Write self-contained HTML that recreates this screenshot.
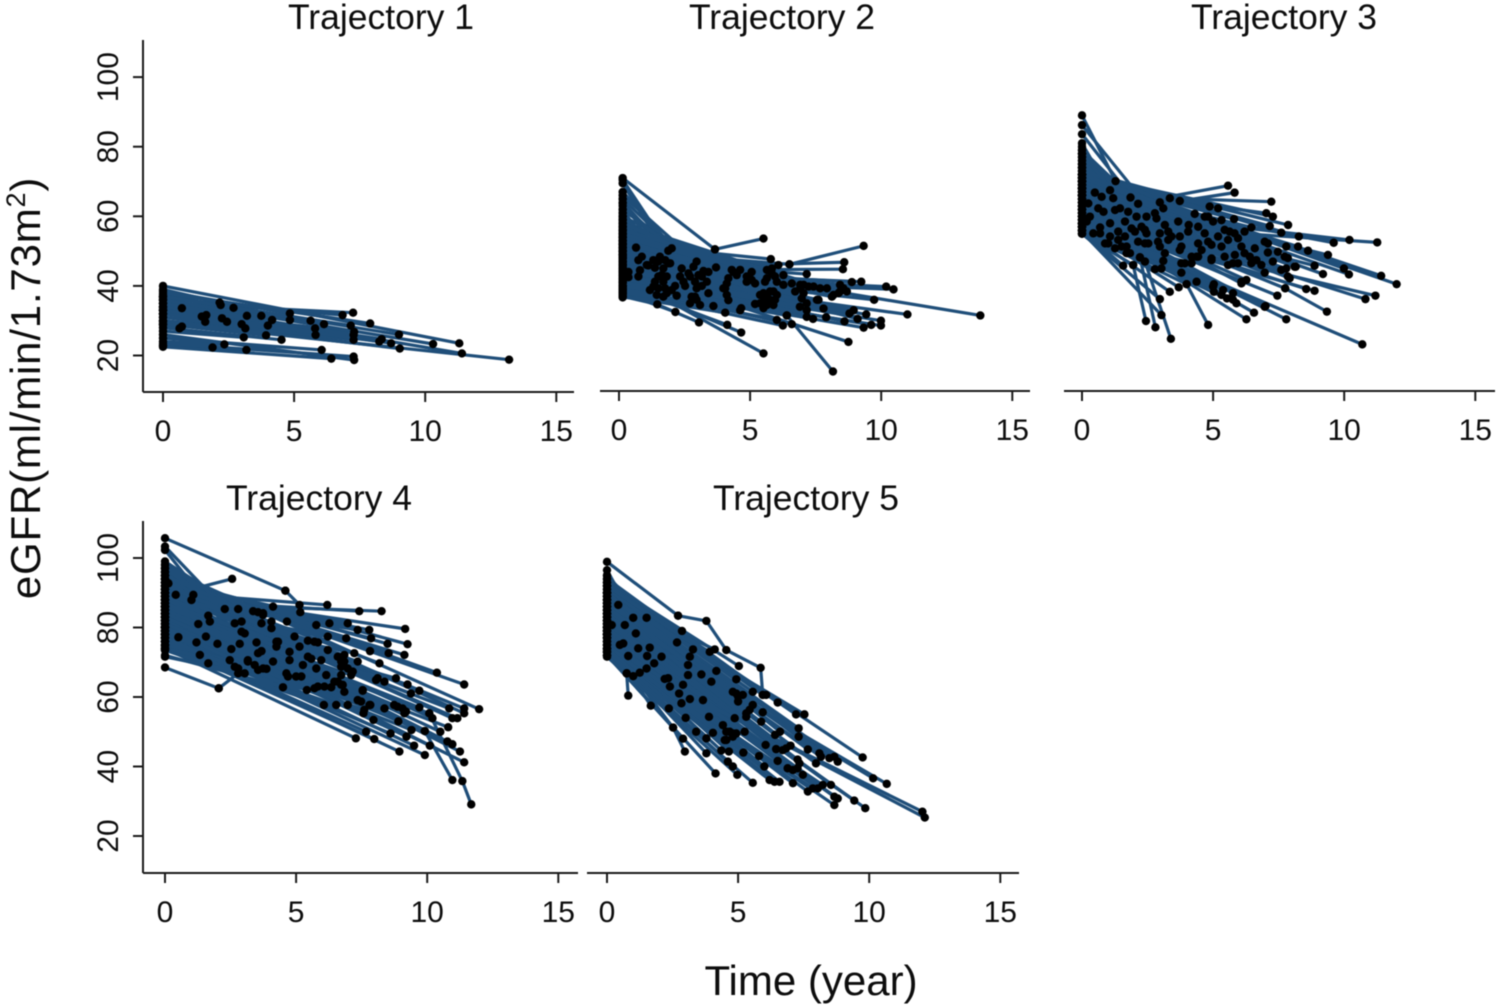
<!DOCTYPE html>
<html lang="en">
<head>
<meta charset="utf-8">
<title>eGFR trajectories</title>
<style>
html,body{margin:0;padding:0;background:#fff;width:1500px;height:1006px;overflow:hidden}
svg{display:block;filter:blur(.55px)}
text{font-family:"Liberation Sans",Arial,sans-serif;fill:#0d0d0d}
.title{font-size:35.5px;text-anchor:middle}
.tick-label{font-size:30px;text-anchor:middle}
.axis-title{font-size:42px;text-anchor:middle}
</style>
</head>
<body>
<svg id="chart" xmlns="http://www.w3.org/2000/svg" width="1500" height="1006" viewBox="0 0 1500 1006">
  <rect width="1500" height="1006" fill="#fff"/>
  <text class="title" x="381" y="29">Trajectory 1</text>
  <text class="title" x="782" y="29">Trajectory 2</text>
  <text class="title" x="1284" y="29">Trajectory 3</text>
  <text class="title" x="319" y="510">Trajectory 4</text>
  <text class="title" x="806" y="510">Trajectory 5</text>
  <text class="axis-title" transform="translate(40,388) rotate(-90)" letter-spacing="0.8">eGFR(ml/min/1.73m<tspan font-size="27" dy="-15">2</tspan><tspan dy="15">)</tspan></text>
  <text class="axis-title" x="811" y="995">Time (year)</text>
</svg>
<script>
const xTickLabels = [0, 5, 10, 15];
const yTickLabels = [20, 40, 60, 80, 100];

const t1Baseline = [34,29,28.8,33,33.5,31,39,37,37.5,33,
32,35,32,30,27,36,35,33,29,28,
38.5,36,37,34,31,36,36.5,35,37,33,
30,32,38,37,32,34,33,30,36,40,
35,29.5,23,24,22.8,25,22.5,23.5,26];
const t1Time = [.72,.72,.63,1.48,1.65,1.61,2.16,2.2,2.69,2.25,
2.44,3.2,3,3.14,3.08,3.75,4.16,4,3.93,4.52,
4.84,4.84,5.63,5.8,5.82,6.14,6.85,7.25,7.16,7.29,
7.27,7.27,7.9,9,8.25,8.34,8.7,9.03,10.3,11.3,
11.4,13.2,1.89,2.34,3.18,6.05,6.42,7.27,7.29];
const t1Value = [33.6,28.3,27.8,31.2,31.6,29.7,35.2,34.5,33.7,30.7,
29.7,31.4,29,27.8,25.2,31.4,30.2,28.6,25.8,24.5,
32.1,30.2,30,27.8,25.9,29,31.6,32.3,28.6,26.8,
24.5,25.9,29.2,26,24,24.7,23.5,22,23.3,23.5,
20.6,18.8,22.3,23.2,21.6,21.6,19.1,19.7,18.7];
const t1ExtraTime = [];
const t1ExtraValue = [];

const t2Baseline = [71,52,50,49,45,44.5,47,45,44,43,
42,44,43,48.5,42,44,40,41,42,40,
45,40,43,41,40,39,38,37,39,38.5,
39.5,40,38,37,38,37.5,36.7,52,63,64,
50,49,60,62,61,59,56,58,48,46,
47,44,57,55,53,42,44,54,40,39,
65,51,70.5,69.5,55,66,65,63.7,67,54,
56,57,59,49,52,46,43,41,38,39,
60,54,53,50,47,52,48,51,58,50,
49,46,45,42,44,41,40,43,55,54,
52,56,51,50,53,48,57,47,46,45,
49,44,47,43,42,
54,59,61,57,52,55,47,45,50,60,
53,51,62,44,58,56,49,48,42,39,
53,50,46,48,47,56,51,52,41,42,
38,44,54,55,48,46,50,52,49,46,
48,43,42,41,45];
const t2Time = [3.66,5.79,6.5,6.08,8.59,8.54,7.16,8.88,9.24,10.19,
10.47,9.73,11,13.78,8.79,9.43,9.33,9.62,9.99,9.99,
8.75,6.4,5.51,4.66,4.13,3.05,2.15,1.46,6.02,6.25,
6.59,7.16,7.16,4.05,4.66,3.6,5.19,.65,2.01,1.88,
.87,.74,1.56,1.5,1.76,1.95,1.12,1.37,.8,.36,
.74,.36,1.63,1.69,1.37,1.18,1.5,1.76,1.44,1.69,
2.14,2.2,2.39,2.33,2.46,2.96,2.84,2.71,3.03,2.9,
3.16,3.41,3.7,2.96,3.35,3.41,2.77,2.96,3.09,2.71,
4.36,4.62,4.17,4.05,4.11,5.06,4.87,5.19,5.64,5.83,
5.64,5.95,5.51,5.76,5.51,5.76,5.38,5.95,6.27,6.27,
6.59,6.91,6.72,7.04,7.42,7.67,7.93,8.43,8.69,8.37,
8.12,6.97,7.55,7.16,7.8,
1.06,1.69,1.88,1.31,1.5,1.82,1.31,1.82,2.01,2.65,
2.52,3.16,3.22,2.9,4.3,4.49,4.11,3.98,4.17,4.62,
4.87,5.06,5.38,5.64,5.89,5.83,5.57,6.02,5.64,5.89,
5.51,6.02,6.91,7.23,7.61,7.04,8.18,8.43,8.56,8.95,
9.1,8.6,7.9,7.4,6.9];
const t2Value = [50.5,47.7,46.2,46,46.8,44.8,43.4,41.1,41.2,39.8,
39,36,31.8,31.5,32.1,31.8,28,28.8,30,28.6,
23.9,31.5,20.6,26.6,28.8,29.5,32.5,34.7,30.2,28.6,
29,33,31.1,32.3,33.6,34.2,34.8,51,50.8,50.1,
48.4,47.4,48.4,47,47.4,46.5,45.9,45.2,44.5,44,
42.7,42.5,43.1,41.2,41.2,38.8,39.3,39.3,37.4,36.9,
40,37.2,45,42.7,41.2,47,45.5,42.7,43.1,41.2,
42.7,44,45.3,39.3,41.2,37.9,36.9,36,34.5,35,
44,44.6,42.2,39.3,37.4,44,41.2,40.7,44.6,45,
42.2,42.7,37.9,38.4,35.5,36,35,36,43.1,40.3,
40.7,39.3,38.4,40.3,39.8,39.3,39.3,40.3,38.4,37.9,
36.9,36.4,36,35,33.5,
46,45,46.5,47.4,42.7,42.7,39.8,37.9,38.8,43.6,
40,40,44.3,36.9,44.6,43.1,40.7,39.3,35.9,33,
42.7,41.7,37.4,37.4,38.4,43.6,41.2,41.2,34.5,34.5,
33.6,37.4,40.3,39.8,36,37.9,37.4,38.4,39.3,33,
30.5,29.8,31,30.5,34];
const t2ExtraTime = [3.66,5.51,null,6.5,9.33,null,6.4,8.16];
const t2ExtraValue = [50.5,53.6,null,46.2,51.5,null,31.5,15.4];

const t3Baseline = [89,61,60,72,70,66,72,73,68,72,
71,72,69,72,73,72,66,62,58,70,
68,66,63,70,68,72,70,72,72,57,
62,58,60,57.7,60,60,61,58,60,63,
66,64,56,57,59,58,62,56,55,57,
56,55,55.5,65,59,58,61,56,55,57,
58,63,72,75,78,81,74,79,70,76,
68,70,80,77,65,60,62,56,73,79,
75,77,78,78,75,74,71,74,69,70,
67,71,76,78,83.6,86.2,68,66,72,65,
68,67,66,64,59,61,64,70,72,62,
63,61,59,67,62,63,60,65,69,66,
71,67,58,57,55,56,58,59,64,
58,60,62,57,68,72,74,71,69,67,
65,63,66,64,60,62,65,70,69,71,
68,65,67,62,63,61,58,66,68,57,
56,59,70,66,68,64,72,62,57,61,
66,64,57,59,61,63,58,60,62];
const t3Time = [1.28,5.57,5.82,3.35,3.73,7.22,4.87,5.19,7.03,7.28,
5.8,7.86,6.46,7.16,7.6,8.27,9.6,10.2,11.26,8.24,
8.62,9.38,8.87,8.15,9.19,9.99,10.18,11.41,12,11.19,
10.81,8.87,8.55,10.69,7.79,6.27,6.56,7,7.45,7.75,
7.92,6.97,5.89,5.53,5.76,5.38,5.03,4.37,3.99,3.69,
3.35,2.97,3.03,6.08,3.79,2.78,3.03,1.57,1.95,2.21,
2.4,3.1,.49,.75,1.07,1.19,1.85,2.14,2.97,3.1,
.62,.82,1.26,1.45,.24,.18,.69,.43,1.07,1.64,
1.76,2.08,2.46,2.84,3.67,4.3,4.68,4.07,4.43,5,
5.32,1.38,1.89,2.4,2.97,3.29,3.73,4.05,4.81,5.19,
5.63,5.95,6.2,6.97,1,1.51,2.14,2.53,2.97,3.73,
4.43,4.43,4.94,5.32,5.83,6.2,6.65,7.09,7.47,7.28,
7.79,7.85,1.7,3.79,4.18,5.57,5.95,6.46,7.79,
.88,1.26,1.7,1.83,2.02,2.27,2.46,2.78,3.16,3.41,
2.9,3.29,2.4,3.79,4.37,4.56,4.94,5.44,5.57,5.82,
6.08,6.4,6.59,6.84,5.44,5.76,4.94,4.68,4.81,4.18,
3.92,3.16,7.73,7.6,8.11,7.85,7.09,1.07,.69,.3,
1.64,1.38,5.03,5.32,6.08,6.27,5,5.76,6.97];
const t3Value = [70.1,68.8,66.8,65.2,64.4,64.2,62.8,62.3,60.9,59.9,
59.2,57.5,56.8,57.2,55.3,54.2,52.4,53.2,52.5,51.3,
50.1,48.9,45.8,45.5,43.4,45,43.3,42.9,40.5,37.2,
36.2,38.6,39.1,23.2,30.4,30.4,32.3,34.2,37.2,39.3,
42.2,43.8,35,36.4,37.9,38.8,40.5,41.2,40.5,39.6,
38.3,36.2,31.6,40.7,43.8,44.8,45,45.8,46,48.2,
47,47.2,66.8,65.6,67.5,65.2,65.4,63.6,64,62.3,
62.3,61.3,61.8,62.3,63.7,58.5,56.8,55.1,58,58.5,
61.3,59.9,59.9,59.4,58.5,60.7,59.9,57.5,57,58.5,
58.9,55.6,56.5,56.1,55.1,55.6,54.2,55.6,52.7,54.2,
55.6,53.7,55.6,52.7,52.2,51.3,52.7,52.2,51.3,50.3,
52.2,48.4,47.9,51.3,48.9,49.4,47.4,49.6,49.8,47,
51.3,48,49.4,46.5,46.5,46,46.5,46.5,45,
52.2,50.8,51.3,49.4,55.6,57,55.1,60.9,57.5,54.2,
52.7,53.2,52.2,51.3,48.4,50.3,51.8,56.1,53.2,55.1,
51.3,48.4,50.8,46,48.4,46.5,47.4,55.1,59.9,48.4,
46.5,49.4,48.4,44.6,45.5,42.7,52.2,54.2,55.1,59.9,
54.2,53.2,38.3,37.4,41.2,41.7,39.8,36,34];
const t3ExtraTime = [7.75,9.34,null,3.99,4.81,null,1.95,2.44,null,2.21,2.8,null,2.4,3.39];
const t3ExtraValue = [39.3,32.6,null,40.5,28.8,null,46,29.9,null,48.2,28.1,null,47,24.8];

const t4Baseline = [68.5,89,105.7,90,88,87,90,93,90,94,
93,94,93,95,94,97,92,90,88,85,
83,80,86,84,92,88,90,93,94,92,
88,91,90,89,91,88,86,87,84,78,
76,82,75,76,74,73.5,75,77,79,81,
84,83,86,85,72,74,78,80,82,81,
85,87,89,86,90,84,83,87,92,85,
93,82,81,83,79,80,88,78,76,77,
82,96,95,94,91,96,95,99,97,93,
98,98,97,92,94,91,95,96,90,93,
78,80,82,85,89,102.3,103.3,86,96,75,
73.5,76,77,80,74,71.6,75,74.5,79,91,95,
90,88,86,91,84,83,80,85,76,79,
74,75,86,90,92,87,80,76,78,77,
88,84,90,92,89,81,84,82,80,90,
87,78,76,80,89,86,87,79,77,83,
80,83];
const t4Time = [2.05,2.56,4.59,6.19,7.41,8.26,9.16,5.16,4.12,9.25,
8.49,8.53,9.13,10.37,11.41,11.98,11.41,11.15,10.84,10.08,
10.8,9.91,9.25,8.81,9.7,9.38,8.05,8.18,7.82,7.86,
7.35,7.79,6.97,6.27,5.77,10.77,10.96,11.25,11.41,9.91,
8.94,9.21,7.98,7.67,7.28,6.06,6.53,6.97,7.57,7.95,
7.35,7.83,8.87,9.19,4.5,5.41,5.83,6.34,6.78,7.54,
7.1,6.72,7.35,6.84,6.21,7.22,6.91,6.21,5.45,5.83,
4.94,5.13,4.75,5.45,4.75,5.26,5.96,5.77,4.63,5,
6.15,4.31,4.25,4.06,3.55,3.74,3.36,2.79,2.28,4.65,
3.68,2.66,2.92,1.65,1.71,1.27,1.08,1.01,.41,.13,
.51,1.2,1.56,2,3.04,2.85,3.49,2.53,3.68,1.33,
1.65,2.47,3.16,4.12,2.66,3.04,3.42,3.87,6.59,10.96,11.41,
6.84,6.97,6.72,7.16,6.46,6.72,6.84,7.54,5.7,6.08,
4.69,5.2,5.58,5.7,6.59,6.72,3.16,3.55,3.74,2.79,
4.25,3.55,2.92,3.74,4.06,8.37,8.74,9.06,9.13,8.37,
8.11,7.48,7.6,7.8,10.2,9.7,10.5,9.4,8.6,10.1,
9.5,8.9];
const t4Value = [62.5,94,90.6,86.5,84.7,84.7,79.6,84.4,86,75.2,
75.3,72.6,72.1,67,63.6,56.5,56.7,53.9,56.7,55.3,
51.3,50.2,63.6,65.4,61.8,61,64.9,69.7,73.2,76.9,
79.3,79.3,81.2,81.2,80.7,47.2,46.4,44.3,41.2,43.3,
44.3,48.6,47.9,50,48.1,57.7,57.7,57.7,55.3,53.4,
59.1,57.7,57.2,55.8,62.8,62,63,62.8,63.5,61.8,
66.3,68.7,70.2,72.1,73.5,72.6,76.9,77.4,76.2,75.7,
77.4,74.5,73,71.6,70.6,69.2,70.6,68.2,66.8,65.9,
66.3,75.9,74.5,79.8,84.4,84.1,84.7,85.3,85.3,81.7,
81.2,81.2,81.7,83.4,81.7,81,89.4,87.9,89.4,92.7,
77.2,75.7,77.4,75.3,78.3,75.3,75.7,73.8,73.2,72.1,
69.7,70.6,70.6,70.2,68.7,66.8,69.2,68.1,64.4,53.9,55.3,
70.2,68.2,66.3,67.3,64.4,63.5,61.5,62,62.5,63,
65.9,65.9,71,75.9,71.6,70.2,70.2,67.8,68.2,68.2,
75.9,72.6,78.8,83.6,81.7,56.7,57.7,56.7,55.3,64.4,
65.4,58.7,56.3,57.7,53.9,57,50,50.5,49.5,46,
46,53];
const t4ExtraTime = [2.05,2.79,null,4.59,5.13,null,9.91,10.96,null,10.08,11.34,11.68];
const t4ExtraValue = [62.5,66.8,null,90.6,86.5,null,50.2,36.1,null,55.3,35.8,29.1];

const t5Baseline = [98.9,90,92,91,90,88,93,93,92,95,
89,82,94,80,78,90,96.5,76,87,95,
86,84,79,74,73,77,75,85,83,81,
93,91,88,86,83,80,79,84,90,89,
87,92,85,87,88,90,91,93,94,86,
84,85,82,80,78,76,74,72,82,80,
81,83,79,77,78,75,76,73,73.5,71.6,
72,77,81,86,83,85,79,78,84,80,
79,88,90,87,92,89,74,76,75,77,
82,74,78,80,81,85,86,89,87,92,
83,82,72,73,
78,82,75,79,86,88,94,89,84,82,
78,90,88,74,76,78,73,75,77,80,
90,88,74,73,72];
const t5Time = [2.71,2.86,2.67,3.28,3.92,4.11,5.03,.43,1,1.51,
.68,.18,1.1,.49,.62,1.19,1.63,.81,1.53,2.08,
1.8,1.51,1.25,1,.75,1.67,2.36,2.33,2.2,2.4,
3.16,3.09,3.09,2.9,2.75,2.84,3.16,3.66,3.6,4.17,
3.98,4.93,4.8,5,5,5.18,5.56,5.94,6.51,5.56,
5.31,5.94,5.88,4.87,3.89,2.52,3.79,4.14,4.42,4.55,
4.8,5.25,4.04,3.79,4.49,4.36,4.65,4.61,4.8,4.97,
5.56,6,6.05,6.41,6.45,6.83,6.51,6.89,7.27,7.27,
7.47,7.66,7.31,7.31,7.21,7.53,6.39,7.09,7.66,8.04,
8.54,8.67,8.8,9.43,9.85,7.97,8.16,8.67,8.8,9.75,
10.15,10.67,12.03,12.12,
4.68,4.93,4.55,4.8,5.31,5.44,6.07,4.93,6.7,7.34,
7.09,8.1,8.48,7.85,8.23,8.67,6.2,6.58,5.2,5.8,
6.6,7,3,3.4,2.9];
const t5Value = [83.4,79,75.7,73.7,73,73.7,68.9,86.5,82.8,82.8,
80.7,80.7,78.3,75,75.4,74,74.2,71.8,71.8,71.6,
69.7,68.2,67,66,66.8,57.5,56.7,65.4,65.2,63,
71.6,69.2,66.3,63.5,61,58.2,59.4,59.1,66.5,67.5,
64.4,65.1,61.5,60.1,58.7,60.6,61.5,60.6,58.4,57.7,
55.3,55.6,52.9,53.9,54.3,51.2,43.8,38,51.9,50,
49.5,50,49.7,48.1,47.6,44.6,44.3,41.4,40,37.6,
35.3,40,46.2,49.1,45,45.2,41.6,39.5,42,39.5,
37.6,44.9,51,48.6,55,55,35.6,35.2,32.8,33.7,
34.7,28.9,30.8,30.2,28,40.9,42.8,42.8,41.4,42.6,
36.6,35,27,25.3,
50,49.5,47.6,48.6,54.3,56.3,60.6,61,44.7,40.9,
39,43.8,42.4,33.7,34.7,31.3,36.1,35.6,44,43,
50,46,54,50,48];
const t5ExtraTime = [2.71,3.79,4.55,5.86,5.94,null,.75,.81,null,2.52,2.97];
const t5ExtraValue = [83.4,81.9,73.5,68.4,60.6,null,66.8,60.4,null,51.2,44.3];

const panels = [
  {id:'1',x0:163,axisLeft:143,axisRight:574,baseY:392,y20:355.5,yStep:3.48,top:40,yAxis:true,start:0,base:t1Baseline,time:t1Time,value:t1Value,exT:t1ExtraTime,exV:t1ExtraValue},
  {id:'2',x0:619,axisLeft:600,axisRight:1030,baseY:391,y20:355.5,yStep:3.48,top:40,yAxis:false,start:0.14,base:t2Baseline,time:t2Time,value:t2Value,exT:t2ExtraTime,exV:t2ExtraValue},
  {id:'3',x0:1082,axisLeft:1064,axisRight:1495,baseY:391,y20:355.5,yStep:3.48,top:40,yAxis:false,start:0,base:t3Baseline,time:t3Time,value:t3Value,exT:t3ExtraTime,exV:t3ExtraValue},
  {id:'4',x0:165,axisLeft:143,axisRight:578,baseY:873,y20:836,yStep:3.475,top:521,yAxis:true,start:0,base:t4Baseline,time:t4Time,value:t4Value,exT:t4ExtraTime,exV:t4ExtraValue},
  {id:'5',x0:607,axisLeft:587,axisRight:1019,baseY:873,y20:836,yStep:3.475,top:521,yAxis:false,start:0,base:t5Baseline,time:t5Time,value:t5Value,exT:t5ExtraTime,exV:t5ExtraValue}
];

const NS = 'http://www.w3.org/2000/svg';
const svg = document.getElementById('chart');
const LINE_COLOR = '#1f4e79';
const AXIS_COLOR = '#1a1a1a';
const YEAR_PX = 26.22;
const LINE_WIDTH = '3.2';
const DOT_R = '4.2';

panels.forEach(function (p) {
  const xScale = function (t) { return p.x0 + t * YEAR_PX; };
  const yScale = function (v) { return p.y20 - (v - 20) * p.yStep; };

  const group = document.createElementNS(NS, 'g');
  
  
  svg.appendChild(group);

  const xAxis = document.createElementNS(NS, 'line');
  
  
  xAxis.setAttribute('x1', p.axisLeft);
  xAxis.setAttribute('x2', p.axisRight);
  xAxis.setAttribute('y1', p.baseY);
  xAxis.setAttribute('y2', p.baseY);
  xAxis.setAttribute('stroke', AXIS_COLOR);
  xAxis.setAttribute('stroke-width', '2');
  group.appendChild(xAxis);

  xTickLabels.forEach(function (label) {
    const tick = document.createElementNS(NS, 'line');
    
    
    tick.setAttribute('x1', xScale(label));
    tick.setAttribute('x2', xScale(label));
    tick.setAttribute('y1', p.baseY);
    tick.setAttribute('y2', p.baseY + 10);
    tick.setAttribute('stroke', AXIS_COLOR);
    tick.setAttribute('stroke-width', '2');
    group.appendChild(tick);

    const text = document.createElementNS(NS, 'text');
    
    
    text.setAttribute('class', 'tick-label');
    text.setAttribute('x', xScale(label));
    text.setAttribute('y', p.baseY + 49);
    text.textContent = label;
    group.appendChild(text);
  });

  if (p.yAxis) {
    const yAxis = document.createElementNS(NS, 'line');
    
    
    yAxis.setAttribute('x1', p.axisLeft);
    yAxis.setAttribute('x2', p.axisLeft);
    yAxis.setAttribute('y1', p.top);
    yAxis.setAttribute('y2', p.baseY);
    yAxis.setAttribute('stroke', AXIS_COLOR);
    yAxis.setAttribute('stroke-width', '2');
    group.appendChild(yAxis);

    yTickLabels.forEach(function (label) {
      const tick = document.createElementNS(NS, 'line');
      
      
      tick.setAttribute('x1', p.axisLeft - 10);
      tick.setAttribute('x2', p.axisLeft);
      tick.setAttribute('y1', yScale(label));
      tick.setAttribute('y2', yScale(label));
      tick.setAttribute('stroke', AXIS_COLOR);
      tick.setAttribute('stroke-width', '2');
      group.appendChild(tick);

      const text = document.createElementNS(NS, 'text');
      
      
      text.setAttribute('class', 'tick-label');
      text.setAttribute('transform', 'translate(118,' + yScale(label) + ') rotate(-90)');
      text.textContent = label;
      group.appendChild(text);
    });
  }

  const count = Math.min(p.base.length, p.time.length, p.value.length);

  for (let i = 0; i < count; i++) {
    const seg = document.createElementNS(NS, 'line');
    
    
    seg.setAttribute('x1', xScale(p.start));
    seg.setAttribute('y1', yScale(p.base[i]));
    seg.setAttribute('x2', xScale(p.time[i]));
    seg.setAttribute('y2', yScale(p.value[i]));
    seg.setAttribute('stroke', LINE_COLOR);
    seg.setAttribute('stroke-width', LINE_WIDTH);
    group.appendChild(seg);
  }

  for (let i = 0; i + 1 < p.exT.length; i++) {
    if (p.exT[i] === null || p.exT[i + 1] === null) continue;
    const seg = document.createElementNS(NS, 'line');
    
    
    seg.setAttribute('x1', xScale(p.exT[i]));
    seg.setAttribute('y1', yScale(p.exV[i]));
    seg.setAttribute('x2', xScale(p.exT[i + 1]));
    seg.setAttribute('y2', yScale(p.exV[i + 1]));
    seg.setAttribute('stroke', LINE_COLOR);
    seg.setAttribute('stroke-width', LINE_WIDTH);
    group.appendChild(seg);
  }

  for (let i = 0; i < count; i++) {
    const startDot = document.createElementNS(NS, 'circle');
    
    
    startDot.setAttribute('cx', xScale(p.start));
    startDot.setAttribute('cy', yScale(p.base[i]));
    startDot.setAttribute('r', DOT_R);
    startDot.setAttribute('fill', '#000');
    group.appendChild(startDot);

    const endDot = document.createElementNS(NS, 'circle');
    
    
    endDot.setAttribute('cx', xScale(p.time[i]));
    endDot.setAttribute('cy', yScale(p.value[i]));
    endDot.setAttribute('r', DOT_R);
    endDot.setAttribute('fill', '#000');
    group.appendChild(endDot);
  }

  for (let i = 0; i < p.exT.length; i++) {
    if (p.exT[i] === null) continue;
    const dot = document.createElementNS(NS, 'circle');
    
    
    dot.setAttribute('cx', xScale(p.exT[i]));
    dot.setAttribute('cy', yScale(p.exV[i]));
    dot.setAttribute('r', DOT_R);
    dot.setAttribute('fill', '#000');
    group.appendChild(dot);
  }
});
</script>
</body>
</html>
